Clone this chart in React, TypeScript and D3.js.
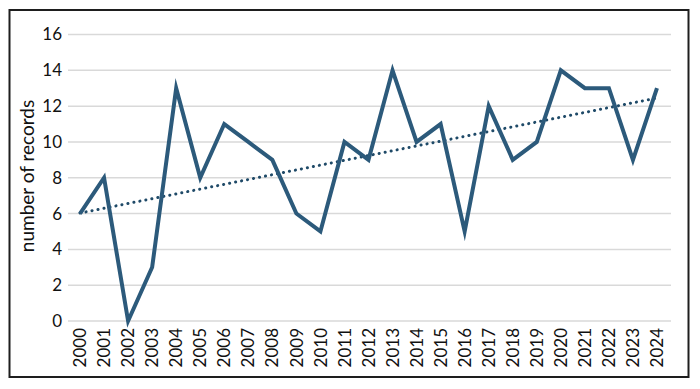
import React, { useEffect, useRef } from 'react';
import * as d3 from 'd3';

const years = ['2000', '2001', '2002', '2003', '2004', '2005', '2006', '2007', '2008', '2009', '2010', '2011', '2012',
    '2013', '2014', '2015', '2016', '2017', '2018', '2019', '2020', '2021', '2022', '2023', '2024'];
const records = [6, 8, 0, 3, 13, 8, 11, 10, 9, 6, 5, 10, 9, 14, 10, 11, 5, 12, 9, 10, 14, 13, 13, 9, 13];
const yTicks = [0, 2, 4, 6, 8, 10, 12, 14, 16];

const width = 700;
const height = 389;
const font = 'Lato, "Open Sans", sans-serif';
const lineColor = '#2c5a7b';

export default function App() {
    const ref = useRef<SVGSVGElement>(null);

    useEffect(() => {
        const svg = d3.select(ref.current);
        svg.selectAll('*').remove();

        // frame
        svg.append('rect')
            .attr('x', 9.5).attr('y', 10).attr('width', 679).attr('height', 367)
            .attr('fill', '#fff').attr('stroke', '#1e1e1e').attr('stroke-width', 2);

        const x = d3.scaleBand().domain(years).range([68, 669]);
        const y = d3.scaleLinear().domain([0, 16]).range([321, 34.5]);

        // gridlines + y labels
        const grid = svg.append('g');
        grid.selectAll('line').data(yTicks).enter()
            .append('line')
            .attr('x1', 68).attr('x2', 671)
            .attr('y1', d => y(d)).attr('y2', d => y(d))
            .attr('stroke', '#d9d9d9').attr('stroke-width', 1.5);
        grid.selectAll('text').data(yTicks).enter()
            .append('text')
            .attr('x', 62).attr('y', d => y(d))
            .attr('dy', '0.35em')
            .attr('text-anchor', 'end')
            .attr('font-family', font).attr('font-size', 17).attr('fill', '#111')
            .text(d => d);

        // x labels, rotated
        svg.append('g').selectAll('text').data(years).enter()
            .append('text')
            .attr('transform', d => 'translate(' + (x(d)! + x.bandwidth() / 2) + ',328) rotate(-90)')
            .attr('dy', '0.36em')
            .attr('text-anchor', 'end')
            .attr('font-family', font).attr('font-size', 17).attr('fill', '#111')
            .text(d => d);

        // axis title
        svg.append('text')
            .attr('transform', 'translate(27,176) rotate(-90)')
            .attr('dy', '0.35em')
            .attr('text-anchor', 'middle')
            .attr('font-family', font).attr('font-size', 19).attr('fill', '#111')
            .text('number of records');

        const cx = (i: number) => x(years[i])! + x.bandwidth() / 2;

        // linear trend from the data
        const n = records.length;
        const mx = d3.mean(records, (d, i) => i)!;
        const my = d3.mean(records)!;
        const slope = d3.sum(records, (d, i) => (i - mx) * (d - my)) / d3.sum(records, (d, i) => (i - mx) * (i - mx));
        const intercept = my - slope * mx;
        svg.append('line')
            .attr('x1', cx(0)).attr('y1', y(intercept))
            .attr('x2', cx(n - 1)).attr('y2', y(intercept + slope * (n - 1)))
            .attr('stroke', '#1f4a68').attr('stroke-width', 3)
            .attr('stroke-dasharray', '0.1 6').attr('stroke-linecap', 'round');

        const line = d3.line<number>()
            .x((d, i) => cx(i))
            .y(d => y(d));
        svg.append('path')
            .datum(records)
            .attr('d', line)
            .attr('fill', 'none')
            .attr('stroke', lineColor).attr('stroke-width', 4)
            .attr('stroke-linejoin', 'miter').attr('stroke-miterlimit', 10);
    }, []);

    return (
        <svg ref={ref} width={width} height={height}
            style={{ position: 'absolute', left: 0, top: 0, display: 'block' }} />
    );
}
